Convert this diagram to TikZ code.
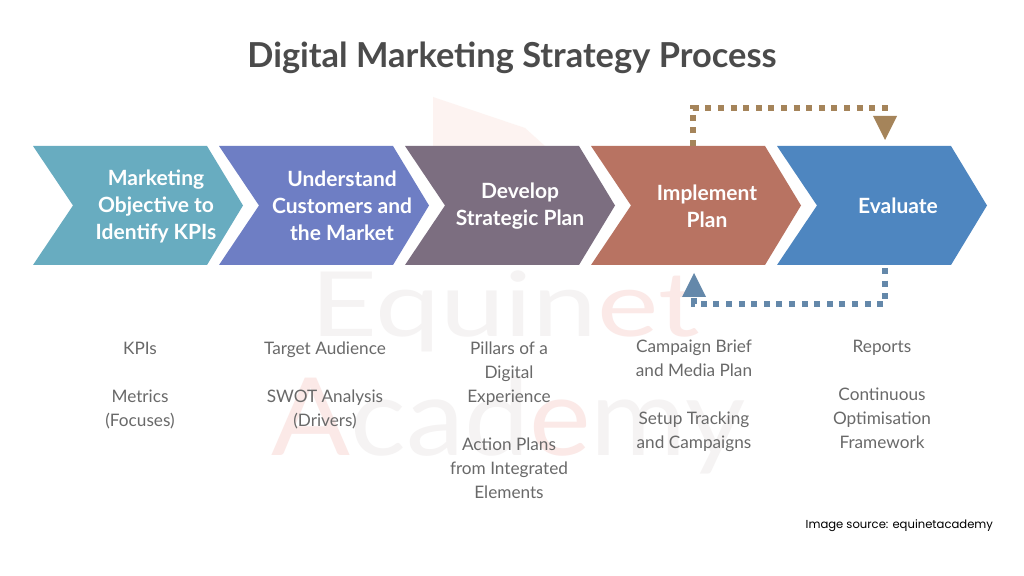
\documentclass[tikz,border=0pt]{standalone}
\usepackage{fontspec}
\setmainfont{Lato}
\newfontfamily\srcfont{Poppins}
\usetikzlibrary{calc}
\definecolor{cA}{RGB}{104,172,192}
\definecolor{cB}{RGB}{110,126,196}
\definecolor{cC}{RGB}{124,110,128}
\definecolor{cD}{RGB}{184,115,98}
\definecolor{cE}{RGB}{78,134,192}
\definecolor{titlegray}{RGB}{75,75,75}
\definecolor{bodygray}{RGB}{105,105,105}
\definecolor{brownline}{RGB}{165,132,90}
\definecolor{blueline}{RGB}{100,136,170}
\definecolor{wmgray}{RGB}{245,243,243}
\definecolor{wmpink}{RGB}{251,233,231}
\definecolor{wmlogo}{RGB}{253,243,241}
\tikzset{
  chevtext/.style={text=white, align=center, font=\bfseries\fontsize{10.5}{13.5}\selectfont},
  bodytext/.style={text=bodygray, align=center, font=\fontsize{8.6}{12}\selectfont, anchor=north},
  dotline/.style={line width=3pt, dash pattern=on 3pt off 3.3pt},
  wmtext/.style={anchor=base west, inner sep=0},
}
\newcommand{\chevron}[2]{%
  \fill[#2] (#1,146) -- ++(174,0) -- ++(36,59.5) -- ++(-36,59.5) -- ++(-174,0) -- ++(40,-59.5) -- cycle;}
\begin{document}
\begin{tikzpicture}[x=0.5pt,y=-0.5pt]
\useasboundingbox[fill=white] (0,0) rectangle (1024,576);
% watermark
\fill[wmlogo] (433,97) -- (525,128) -- (545,146) -- (433,146) -- cycle;
\node[wmtext, font=\fontsize{45}{45}\selectfont] (wm1) at (310,337) {\scalebox{1.29}[1]{\textcolor{wmgray}{Equin}\textcolor{wmpink}{et}}};
\node[wmtext, font=\fontsize{54}{54}\selectfont] (wm2) at (271,456) {\scalebox{1.08}[1]{\textcolor{wmpink}{A}\textcolor{wmgray}{cad}\textcolor{wmpink}{e}\textcolor{wmgray}{my}}};
% title
\node[text=titlegray, font=\bfseries\fontsize{17.2}{17.2}\selectfont] (title) at (512,58) {Digital Marketing Strategy Process};
% chevrons
\chevron{33}{cA}
\chevron{219}{cB}
\chevron{405}{cC}
\chevron{591}{cD}
\chevron{777}{cE}
\node[chevtext] (c1) at (156,206) {Marketing\\Objective to\\Identify KPIs};
\node[chevtext] (c2) at (342,206) {Understand\\Customers and\\the Market};
\node[chevtext] (c3) at (520,206) {Develop\\Strategic Plan};
\node[chevtext] (c4) at (707,206) {Implement\\Plan};
\node[chevtext] (c5) at (898,206) {Evaluate};
% connectors
\coordinate (impTop) at (693,146);
\coordinate (evTri) at (885,116);
\draw[dotline, brownline] (impTop) -- (693,108) -- (885,108) -- (evTri);
\fill[brownline] (873,116) -- (897,116) -- (885,140) -- cycle;
\coordinate (evBot) at (885,268);
\coordinate (impTri) at (694,297);
\draw[dotline, blueline] (evBot) -- (885,304) -- (694,304) -- (impTri);
\fill[blueline] (682,297) -- (706,297) -- (694,273) -- cycle;
% body text
\node[bodytext] (t1) at (140,335) {KPIs\\[12pt]Metrics\\(Focuses)};
\node[bodytext] (t2) at (325,335) {Target Audience\\[12pt]SWOT Analysis\\(Drivers)};
\node[bodytext] (t3) at (509,335) {Pillars of a\\Digital\\Experience\\[12pt]Action Plans\\from Integrated\\Elements};
\node[bodytext] (t4) at (694,333) {Campaign Brief\\and Media Plan\\[12pt]Setup Tracking\\and Campaigns};
\node[bodytext] (t5) at (882,333) {Reports\\[12pt]Continuous\\Optimisation\\Framework};
% source
\node[anchor=east, font=\srcfont\fontsize{5.8}{7}\selectfont, text=black] (src) at (1000,526) {Image source: equinetacademy};
\end{tikzpicture}
\end{document}
